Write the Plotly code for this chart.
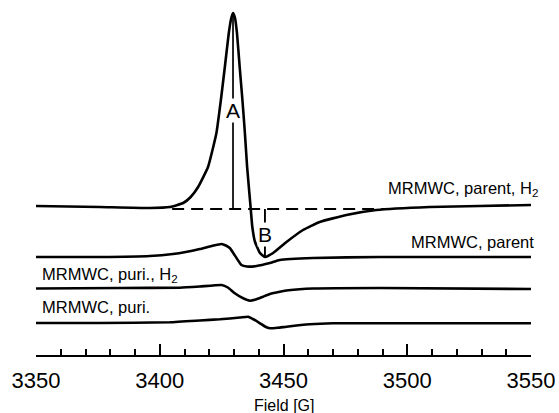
import plotly.graph_objects as go

# ---------------- data ----------------
# Field axis ticks
tick_vals = [3350, 3400, 3450, 3500, 3550]
tick_text = ["3350", "3400", "3450", "3500", "3550"]
axis_title = "Field [G]"

# MRMWC, parent, H2  (signal relative to its own baseline)
field_parent_h2 = [3350.0, 3375.8, 3396.0, 3404.1, 3409.5, 3412.5, 3415.5, 3419.5, 3422.9, 3424.7,
                   3426.3, 3427.9, 3428.9, 3429.6, 3430.4, 3431.2, 3432.3, 3433.4, 3434.4,
                   3435.3, 3436.7, 3437.4, 3438.5, 3440.5, 3442.5, 3445.8, 3451.2, 3457.9,
                   3464.6, 3475.4, 3487.5, 3509.0, 3529.2, 3550.0]
sig_parent_h2 = [1, 0, -1, 0, 4, 10, 20, 40, 74, 107,
                 140, 174, 189, 194, 189, 174, 140, 107, 74,
                 40, 0, -20, -35, -46, -50, -46, -35, -23,
                 -15, -8, -3, 0, 1, 2]

# MRMWC, parent
field_parent = [3350.0, 3375.8, 3396.0, 3405.3, 3410.5, 3416.2, 3421.0, 3425.0, 3426.7,
                3428.3, 3431.0, 3433.0, 3435.2, 3439.1, 3444.5, 3448.5, 3461.9, 3488.9, 3550.0]
sig_parent = [0, 0, 1, 3, 5, 8, 11, 13, 11.5,
              9, -1, -8, -9.5, -9, -6, -3, -1, 0, 0]

# MRMWC, puri., H2
field_puri_h2 = [3350.0, 3383.9, 3408.1, 3416.2, 3425.0, 3427.5, 3430.3, 3433.7, 3436.4,
                 3438.8, 3441.7, 3444.5, 3448.5, 3452.0, 3461.9, 3488.9, 3550.0]
sig_puri_h2 = [-0.5, 0, 0.3, 1.5, 3, 0.5, -5.3, -10.3, -12.7,
               -11.5, -8.7, -6, -3.8, -2.3, -0.5, 0, -1]

# MRMWC, puri.
field_puri = [3350.0, 3375.8, 3404.1, 3416.2, 3424.3, 3432.4, 3435.7, 3438.0, 3440.5,
              3442.5, 3444.5, 3447.7, 3451.2, 3460.6, 3470.0, 3496.9, 3550.0]
sig_puri = [0, 0, 0.7, 2.5, 3.7, 5.5, 6.3, 3.5, -0.3,
            -3.5, -5.3, -4.8, -3.7, -1.2, -0.2, -0.3, -0.3]

labels = ["MRMWC, parent, H<sub>2</sub>", "MRMWC, parent", "MRMWC, puri., H<sub>2</sub>", "MRMWC, puri."]
offsets = [148, 98, 67, 32]          # vertical stacking of the traces

# markers A (peak) and B (trough) and dashed reference line
field_A = 3429.6
field_B = 3442.5
ref_level = -2                         # dashed baseline, relative to top trace
ref_field = [3405, 3495]

# ---------------- figure ----------------
font_family = "Liberation Sans, Arial, Helvetica, sans-serif"
fig = go.Figure()

series = [(field_parent_h2, sig_parent_h2), (field_parent, sig_parent),
          (field_puri_h2, sig_puri_h2), (field_puri, sig_puri)]
for (fx, fy), off in zip(series, offsets):
    fig.add_trace(go.Scatter(x=fx, y=[v + off for v in fy], mode="lines",
                             line=dict(color="black", width=2.6, shape="spline", smoothing=0.4),
                             hoverinfo="skip", showlegend=False))

# dashed reference line
fig.add_trace(go.Scatter(x=ref_field, y=[ref_level + offsets[0]] * 2, mode="lines",
                         line=dict(color="black", width=2.2, dash="12px,7px"),
                         hoverinfo="skip", showlegend=False))

peak_val = max(sig_parent_h2) + offsets[0]
trough_val = min(sig_parent_h2) + offsets[0]
fig.add_trace(go.Scatter(x=[field_A, field_A], y=[ref_level + offsets[0], peak_val - 2], mode="lines",
                         line=dict(color="black", width=1.7), hoverinfo="skip", showlegend=False))
fig.add_trace(go.Scatter(x=[field_B, field_B], y=[ref_level + offsets[0], trough_val], mode="lines",
                         line=dict(color="black", width=1.9), hoverinfo="skip", showlegend=False))

fig.add_annotation(x=field_A, y=245, text="A", showarrow=False, xref="x", yref="y",
                   font=dict(size=21, color="black", family=font_family),
                   bgcolor="white", borderpad=0)
fig.add_annotation(x=field_B, y=121, text="B", showarrow=False, xref="x", yref="y",
                   font=dict(size=21, color="black", family=font_family),
                   bgcolor="white", borderpad=0)

lab_font = dict(size=16.5, color="black", family=font_family)
fig.add_annotation(x=1.018, y=166, text=labels[0], showarrow=False, xref="paper", yref="y",
                   xanchor="right", yanchor="middle", font=lab_font)
fig.add_annotation(x=1.0095, y=113, text=labels[1], showarrow=False, xref="paper", yref="y",
                   xanchor="right", yanchor="middle", font=lab_font)
fig.add_annotation(x=0.008, y=80, text=labels[2], showarrow=False, xref="paper", yref="y",
                   xanchor="left", yanchor="middle", font=lab_font)
fig.add_annotation(x=0.008, y=48.3, text=labels[3], showarrow=False, xref="paper", yref="y",
                   xanchor="left", yanchor="middle", font=lab_font)

# axis title placed below the tick labels
fig.add_annotation(x=0.501, y=-0.143, text=axis_title, showarrow=False, xref="paper", yref="paper",
                   xanchor="center", yanchor="middle",
                   font=dict(size=16, color="black", family=font_family))

fig.update_layout(
    width=559, height=413,
    margin=dict(l=36, r=28, t=5, b=58),
    paper_bgcolor="white", plot_bgcolor="white",
    font=dict(family=font_family, color="black"),
    xaxis=dict(range=[3350, 3550], showgrid=False, zeroline=False, automargin=False,
               showline=True, linecolor="black", linewidth=2,
               ticks="inside", ticklen=11, tickwidth=2, tickcolor="black",
               tickvals=tick_vals, ticktext=tick_text, ticklabelstandoff=5,
               tickfont=dict(size=22, color="black", family=font_family),
               minor=dict(ticks="inside", ticklen=6, tickwidth=2, tickcolor="black", dtick=10,
                          tick0=3350, showgrid=False)),
    yaxis=dict(range=[0, 350], visible=False, showgrid=False, zeroline=False, automargin=False),
)

fig.write_html("out.html", config={"displayModeBar": False},
               post_script="document.body.style.margin='0';")
